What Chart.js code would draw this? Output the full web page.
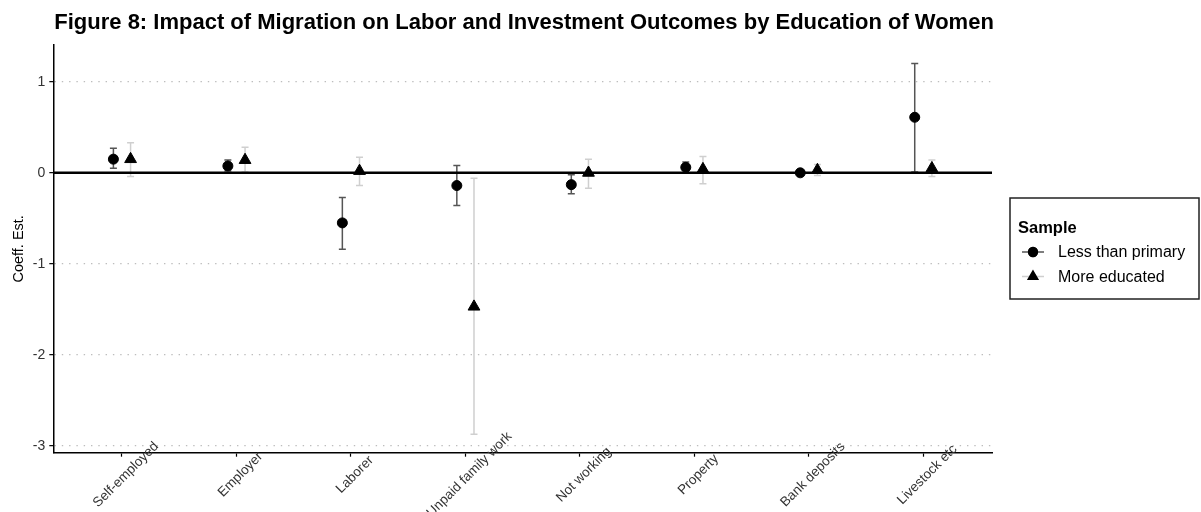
<!DOCTYPE html>
<html>
<head>
<meta charset="utf-8">
<script src="https://cdn.jsdelivr.net/npm/chart.js@4.4.1/dist/chart.umd.min.js"></script>
<style>
  html, body { margin: 0; padding: 0; background: #fff; }
  #wrap { position: relative; width: 1201px; height: 512px; }
</style>
</head>
<body>
<div id="wrap"><canvas id="myChart"></canvas></div>
<script>
// outcome categories on the x axis
var categories = ['Self-employed', 'Employer', 'Laborer', 'Unpaid family work',
    'Not working', 'Property', 'Bank deposits', 'Livestock etc'];

// women with less than primary schooling: estimate and 95% CI bounds
var lessEst = [0.15, 0.075, -0.55, -0.14, -0.13, 0.06, 0.0, 0.61];
var lessLo  = [0.05, 0.02, -0.84, -0.36, -0.23, 0.0, -0.02, 0.01];
var lessHi  = [0.27, 0.14, -0.27, 0.08, -0.02, 0.12, 0.02, 1.20];

// more educated women
var moreEst = [0.15, 0.14, 0.02, -1.47, 0.0, 0.04, 0.03, 0.05];
var moreLo  = [-0.04, 0.01, -0.14, -2.87, -0.17, -0.12, -0.03, -0.04];
var moreHi  = [0.33, 0.28, 0.17, -0.06, 0.15, 0.18, 0.09, 0.14];

var yTicks = [-3, -2, -1, 0, 1];
var dodge = 0.075;
var font = '"Liberation Sans", Arial, Helvetica, sans-serif';

// y range = data range padded by 5% each side
var allLo = Math.min.apply(null, lessLo.concat(moreLo));
var allHi = Math.max.apply(null, lessHi.concat(moreHi));
var pad = (allHi - allLo) * 0.05;

function points(est, shift) {
    var out = [];
    for (var i = 0; i < est.length; i++) {
        out.push({x: i + shift, y: est[i]});
    }
    return out;
}

// whiskers, the zero reference line, labels and legend
var decorations = {
    id: 'decorations',
    beforeDatasetsDraw: function (chart) {
        var ctx = chart.ctx;
        var xs = chart.scales.x, ys = chart.scales.y;
        ctx.save();
        chart.data.datasets.forEach(function (ds) {
            ctx.strokeStyle = ds.errColor;
            ctx.lineWidth = 1.5;
            for (var i = 0; i < ds.data.length; i++) {
                var x = xs.getPixelForValue(ds.data[i].x);
                var y1 = ys.getPixelForValue(ds.errLo[i]);
                var y2 = ys.getPixelForValue(ds.errHi[i]);
                ctx.beginPath();
                ctx.moveTo(x, y1); ctx.lineTo(x, y2);
                ctx.moveTo(x - 3.5, y1); ctx.lineTo(x + 3.5, y1);
                ctx.moveTo(x - 3.5, y2); ctx.lineTo(x + 3.5, y2);
                ctx.stroke();
            }
        });
        // horizontal line at zero
        var y0 = ys.getPixelForValue(0);
        ctx.strokeStyle = '#000';
        ctx.lineWidth = 2.6;
        ctx.beginPath();
        ctx.moveTo(chart.chartArea.left, y0);
        ctx.lineTo(chart.chartArea.right, y0);
        ctx.stroke();
        ctx.restore();
    },
    afterDraw: function (chart) {
        var ctx = chart.ctx;
        var xs = chart.scales.x;
        var area = chart.chartArea;
        ctx.save();

        // title
        ctx.fillStyle = '#000';
        ctx.font = 'bold 22px ' + font;
        ctx.textAlign = 'left';
        ctx.textBaseline = 'alphabetic';
        ctx.fillText('Figure 8: Impact of Migration on Labor and Investment Outcomes by Education of Women', area.left + 1, 29);

        // slanted category labels, centred on each tick
        ctx.font = '13.5px ' + font;
        ctx.fillStyle = '#333';
        ctx.textAlign = 'center';
        ctx.textBaseline = 'middle';
        categories.forEach(function (c, i) {
            var x = xs.getPixelForValue(i);
            ctx.save();
            ctx.translate(x + 4, area.bottom + 22);
            ctx.rotate(-Math.PI / 4);
            ctx.fillText(c, 0, 0);
            ctx.restore();
        });

        // legend box
        var lx = 1010, ly = 198;
        ctx.strokeStyle = '#222';
        ctx.lineWidth = 1.5;
        ctx.strokeRect(lx, ly, 189, 101);
        ctx.fillStyle = '#000';
        ctx.textAlign = 'left';
        ctx.font = 'bold 16.5px ' + font;
        ctx.fillText('Sample', lx + 8, ly + 30);
        ctx.font = '16px ' + font;
        chart.data.datasets.forEach(function (ds, k) {
            var y = ly + 54 + k * 24.5;
            ctx.strokeStyle = ds.errColor;
            ctx.lineWidth = 1.5;
            ctx.beginPath();
            ctx.moveTo(lx + 12, y); ctx.lineTo(lx + 34, y);
            ctx.stroke();
            Chart.helpers.drawPoint(ctx, {
                pointStyle: ds.pointStyle,
                radius: ds.pointStyle === 'triangle' ? 5.5 : 4.4,
                rotation: 0,
                borderWidth: 1
            }, lx + 23, y);
            ctx.fillStyle = '#000';
            ctx.strokeStyle = '#000';
            ctx.fill();
            ctx.stroke();
            ctx.fillText(ds.label, lx + 48, y + 1);
        });
        ctx.restore();
    }
};

var ctx = document.getElementById('myChart').getContext('2d');
var myChart = new Chart(ctx, {
    type: 'scatter',
    data: {
        datasets: [{
            label: 'Less than primary',
            data: points(lessEst, -dodge),
            errLo: lessLo,
            errHi: lessHi,
            errColor: '#555555',
            pointStyle: 'circle',
            pointRadius: 5,
            pointBorderWidth: 1,
            backgroundColor: '#000',
            borderColor: '#000'
        }, {
            label: 'More educated',
            data: points(moreEst, dodge),
            errLo: moreLo,
            errHi: moreHi,
            errColor: '#cfcfcf',
            pointStyle: 'triangle',
            pointRadius: 6.8,
            pointBorderWidth: 1,
            backgroundColor: '#000',
            borderColor: '#000'
        }]
    },
    options: {
        responsive: true,
        maintainAspectRatio: false,
        animation: false,
        layout: { padding: { top: 45, right: 209, left: 0, bottom: 0 } },
        plugins: {
            legend: { display: false },
            title: { display: false },
            tooltip: { enabled: false }
        },
        scales: {
            x: {
                type: 'linear',
                min: -0.6,
                max: categories.length - 0.4,
                afterBuildTicks: function (scale) {
                    scale.ticks = categories.map(function (c, i) { return {value: i}; });
                },
                afterFit: function (scale) { scale.height = 59.3; },
                ticks: { display: false },
                grid: {
                    drawOnChartArea: false,
                    drawTicks: true,
                    tickLength: 4,
                    tickColor: '#000',
                    tickWidth: 1.2
                },
                border: { color: '#000', width: 1.5 }
            },
            y: {
                min: allLo - pad,
                max: allHi + pad,
                afterBuildTicks: function (scale) {
                    scale.ticks = yTicks.map(function (v) { return {value: v}; });
                },
                afterFit: function (scale) { scale.width = 53.3; },
                ticks: {
                    color: '#333',
                    padding: 4,
                    font: { family: font, size: 14 }
                },
                grid: {
                    color: '#bdbdbd',
                    lineWidth: 1.3,
                    tickLength: 4,
                    tickColor: '#000',
                    tickWidth: 1.2
                },
                border: { color: '#000', width: 1.5, dash: [1.4, 5.9] },
                title: {
                    display: true,
                    text: 'Coeff. Est.',
                    color: '#000',
                    padding: { top: 10, bottom: 0 },
                    font: { family: font, size: 14.5 }
                }
            }
        }
    },
    plugins: [decorations]
});
</script>
</body>
</html>
